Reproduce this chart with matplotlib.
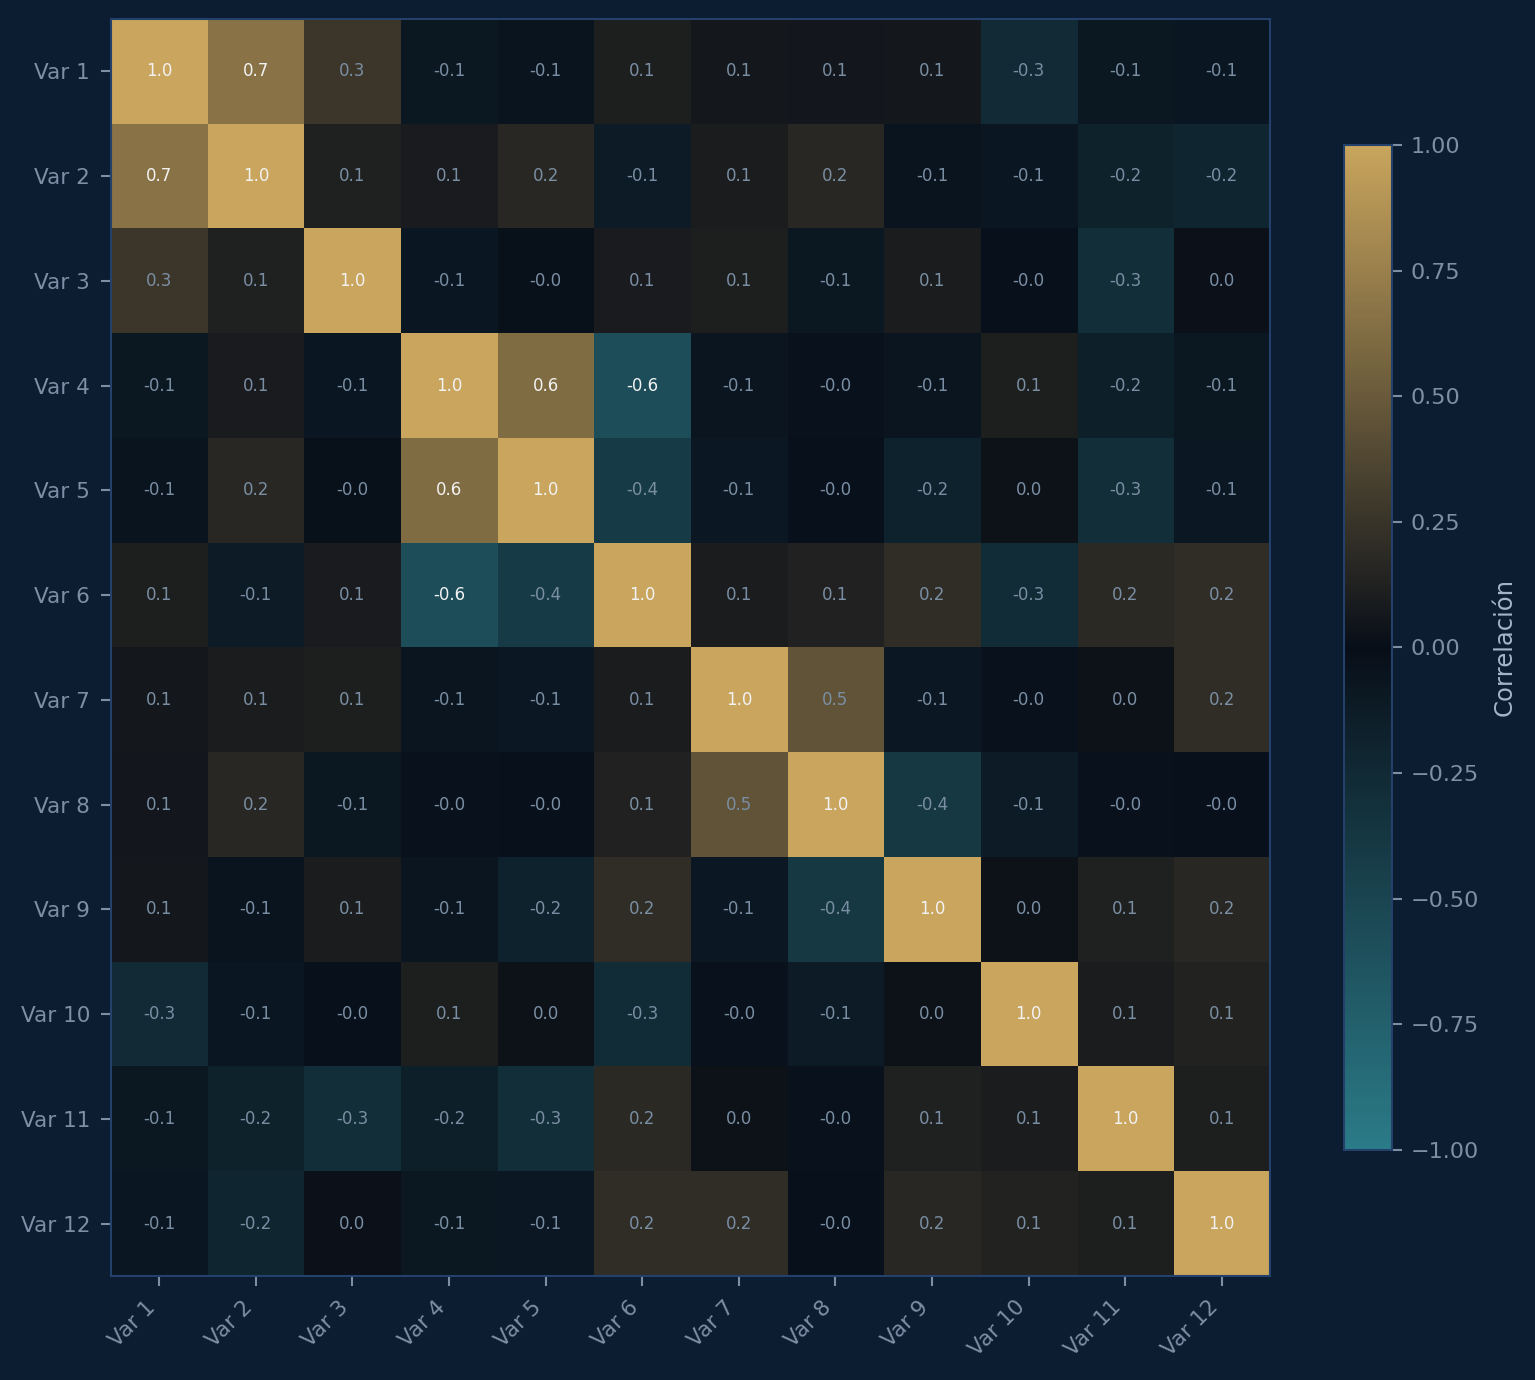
import matplotlib
matplotlib.use('Agg')
import matplotlib.pyplot as plt
import numpy as np
from matplotlib.colors import LinearSegmentedColormap

labels = ['Var %d' % i for i in range(1, 13)]

# upper triangle of the correlation matrix, row by row (diagonal excluded)
upper = [
    [0.67, 0.27, -0.10, -0.06, 0.11, 0.07, 0.06, 0.07, -0.26, -0.10, -0.08],
    [0.12, 0.09, 0.17, -0.12, 0.10, 0.17, -0.06, -0.08, -0.18, -0.22],
    [-0.08, -0.02, 0.09, 0.11, -0.10, 0.10, -0.03, -0.30, 0.02],
    [0.62, -0.58, -0.07, -0.04, -0.07, 0.11, -0.17, -0.10],
    [-0.42, -0.09, -0.03, -0.19, 0.03, -0.30, -0.09],
    [0.10, 0.13, 0.21, -0.28, 0.18, 0.21],
    [0.46, -0.09, -0.04, 0.03, 0.21],
    [-0.39, -0.12, -0.04, -0.03],
    [0.03, 0.12, 0.17],
    [0.10, 0.14],
    [0.11],
]

n = len(labels)
corr = np.eye(n)
for i, row in enumerate(upper):
    for k, v in enumerate(row):
        j = i + 1 + k
        corr[i, j] = v
        corr[j, i] = v

bg = '#0c1c31'
spine = '#23416a'
tick_col = '#7d8fa5'

cmap = LinearSegmentedColormap.from_list('tealgold', ['#2b7b88', '#080e18', '#c9a55d'])

fig = plt.figure(figsize=(15.35, 13.8), dpi=100, facecolor=bg)
ax = fig.add_axes([0.0723, 0.0754, 0.7551, 0.9108])
ax.set_facecolor(bg)
im = ax.imshow(corr, cmap=cmap, vmin=-1, vmax=1, aspect='auto', interpolation='nearest')

for i in range(n):
    for j in range(n):
        v = corr[i, j]
        c = '#f2f2f2' if abs(v) > 0.5 else '#7a8ea3'
        ax.text(j, i, '%.1f' % v, ha='center', va='center', fontsize=12, color=c)

ax.set_xticks(range(n))
ax.set_yticks(range(n))
ax.set_xticklabels(labels, rotation=45, ha='right')
ax.set_yticklabels(labels)
ax.tick_params(colors=tick_col, labelsize=15.5, length=7, width=1.5, pad=8)
for s in ax.spines.values():
    s.set_color(spine)
    s.set_linewidth(1.5)

cax = fig.add_axes([0.8756, 0.1667, 0.0313, 0.7283])
cb = fig.colorbar(im, cax=cax)
cb.set_ticks([-1, -0.75, -0.5, -0.25, 0, 0.25, 0.5, 0.75, 1])
cb.outline.set_edgecolor(spine)
cb.outline.set_linewidth(1.5)
cax.tick_params(colors=tick_col, labelsize=16, length=7, width=1.5, pad=6)
cb.set_label('Correlación', color='#a5b5c9', fontsize=17.5, labelpad=10)

fig.savefig('out.png', dpi=100, facecolor=bg)
